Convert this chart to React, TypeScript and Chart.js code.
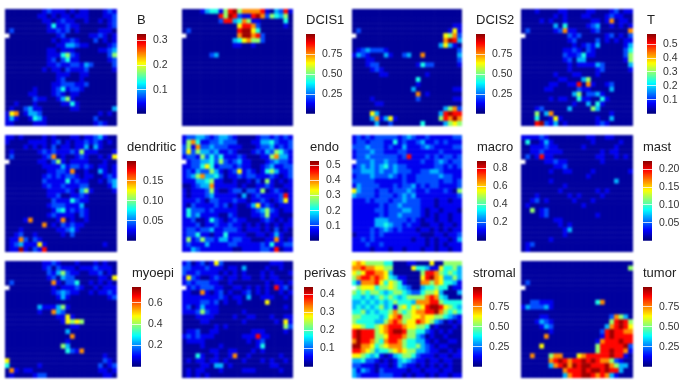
import React, { useEffect, useRef } from "react";
import { Chart, registerables } from "chart.js";

Chart.register(...registerables);

const FONT = "'Liberation Sans', Arial, sans-serif";

// Fraction of each panel's scale maximum for the digits used in the grids ('.' = no spot)
const levelFractions = [0.03, 0.11, 0.2, 0.3, 0.4, 0.52, 0.63, 0.74, 0.87, 0.97];

const gridB = [
  "000000001211101011000121",
  "000000011010110111000112",
  "000000001101211001001012",
  "000000000141121100000012",
  "020000000112120100001110",
  ".00000000001200000112101",
  "000000000010112100020101",
  "000000000001133211000012",
  "000000000110111000001123",
  "000000000111452100000025",
  "000000000120241100000012",
  "000000000112112213200002",
  "000000001011021112000001",
  "000000000001110011000000",
  "000000000001200010000000",
  "000000000011222112000000",
  "000000100012412210000000",
  "000001100012101100000000",
  "000000211001351000000000",
  "001000100000114100000000",
  "010023110000001100000003",
  "167013320000000000001010",
  "131001431000000000020000",
  "110000111000000000012100",
];
const gridDCIS1 = [
  "000013441589577778103281",
  "000000008598211897254350",
  "000000002883475110000040",
  "000000000000688720000010",
  "020000000000899640000000",
  ".00000000000799782000000",
  "000000000003467552000000",
  "000000000001100100000000",
  "000000000000000000000000",
  "000000230000000000000000",
  "000000000000000000000000",
  "000000000000000000000000",
  "000000000000000000000000",
  "000000000000000000000000",
  "000000000000000000000000",
  "000000000000000000000000",
  "000000000000000000000000",
  "000000000000000000000000",
  "000000000000000000000000",
  "000000000000000000000000",
  "000000000000000000000000",
  "000000000000000000000000",
  "000000000000000000000000",
  "000000000000000000000000",
];
const gridDCIS2 = [
  "000000000000000000000000",
  "000000000000000000000000",
  "000000000000000000000000",
  "000000000000000000000011",
  "020000000000000000000161",
  ".00000000000000000006572",
  "000000000000000000007983",
  "000000000000000000036310",
  "012322210000000000000002",
  "132100031002300700000003",
  "000110000000000000000002",
  "000122000000001422000001",
  "000012100000000000000000",
  "000000110000000010000000",
  "000000000000004000000000",
  "000000000000001000000000",
  "000000000000030000000011",
  "000000000000007010000000",
  "000010000000002000000011",
  "000001100000000000000000",
  "000000000000000000003572",
  "000063000000000000038988",
  "000037136100000000058797",
  "000003002000000400003565",
];
const gridT = [
  "000100001100001100012011",
  "000000010100011000121100",
  "000010100100000110170110",
  "000000030400001230010101",
  "020000012711000120000007",
  ".00000000021200000120102",
  "000000000012000020101011",
  "000000000001012130000013",
  "000000000112102100000024",
  "000000000211241100000025",
  "000000000120330000000015",
  "000000000010111132000003",
  "000000000010000012000001",
  "000000010001100010000000",
  "000000001100035000000000",
  "000000110011807100120000",
  "000001100000211000030000",
  "000000000003502231000000",
  "000000101100411004100000",
  "000000000001003041000000",
  "000120000030000530000000",
  "000503700000000000010000",
  "000400161000000010030000",
  "000892130100000012100000",
];
const gridDendritic = [
  "110100001010001101123100",
  "100001111012010112121010",
  "000010101020110113031000",
  "010000012121112151110001",
  "020000001270100121001016",
  ".00000011025101111000100",
  "000000001111312212101101",
  "000000000112217001003101",
  "000000001212122101100121",
  "000000002111141211001023",
  "000000001211211122000013",
  "000000000111121035100001",
  "000000000112001121000000",
  "000000000021114211000000",
  "000000000122211130000000",
  "000000000013412121000000",
  "000000000121111021000000",
  "000017000001701001000000",
  "000000007010212110000000",
  "000100000001123100000000",
  "001200100000102000000000",
  "011720210000000000000000",
  "012311161000000000000100",
  "011910218000000000000000",
];
const gridEndo = [
  "122332123321000012212121",
  "157411223222000113342112",
  "251722322211100012231212",
  "262533231121000121325421",
  "122152424111210001157331",
  ".12233425212311000123221",
  "112246412221211001231122",
  "121322531012612101453112",
  "123573342011212211121012",
  "111334511001001020510101",
  "001233711111010011210011",
  "101112510012202215012101",
  "101112311111030121111281",
  "111210221112110112101261",
  "102111121201001361210111",
  "142221211111000123521011",
  "142311110021000112511000",
  "112001421012110001210101",
  "111201121121101010101011",
  "122122311222101110102010",
  "122411011411110011013100",
  "151252213312211000117101",
  "121113111122111112141122",
  "113211111110011112218011",
];
const gridMacro = [
  "121212222212321121111122",
  "122122211412112311212111",
  "222322212113111232111122",
  "122232211122111111121111",
  "122322222212811121212212",
  ".22232232211111211232122",
  "123232342322111111221212",
  "223332322322211223321111",
  "122232223212112222232211",
  "222221111112112222212212",
  "132222111212231212211112",
  "632221221222321121112105",
  "322221222123231111111112",
  "111212221223222111011011",
  "111111212232222111011111",
  "111112212223322101101110",
  "111111212232222101011011",
  "111113332222121011011011",
  "111113343221211001101101",
  "111121232121110110101011",
  "011121211111111000110112",
  "112121111111101101011013",
  "111211211111111101010111",
  "111101110110111011011011",
];
const gridMast = [
  "111121000000001100110000",
  "040013100000000100000100",
  "001112110000010000001000",
  "001121111000000001011000",
  "020181100000000011001010",
  ".00001121100000001000000",
  "000000011200000000000000",
  "000000100110000100000001",
  "000000000000001000000000",
  "000000100000000000003000",
  "000000000100000000000000",
  "000000001000000010100000",
  "000100000010100001000000",
  "001201000001000100000000",
  "010000000000010000000000",
  "005012000000000000000000",
  "000012000000000010000000",
  "000000011000000000000000",
  "000000001010000000000000",
  "000000000130000000000000",
  "000000000100000000000000",
  "000000100000000000000000",
  "012000000000000000000000",
  "010000000000000000000000",
];
const gridMyoepi = [
  "000000001121000100010100",
  "000000001202111011121110",
  "000000000213521100112010",
  "000000000120322000001106",
  "020000000071022400101010",
  ".00000000010111210010111",
  "000000000012321100101121",
  "000000000001310000000012",
  "000000000000000000000000",
  "000000031113510000000000",
  "000000010073200000000000",
  "000000000001161000000000",
  "000000000000165650000000",
  "000000000000001100000000",
  "000000000000030000000000",
  "000000000000007000000000",
  "000000000000010000000000",
  "000000000000530000000000",
  "000000000000042170000000",
  "000000000000000000000100",
  "600000000000000000000210",
  "400000010000000000002012",
  "071011000000000000001101",
  "010000122000000000000110",
];
const gridPerivas = [
  "120120162000000000011100",
  "221112111011030000100100",
  "211211110101010001010001",
  "162100121011011001011000",
  "121222110010000000101101",
  ".12122211001101010108120",
  "110071012010012010100101",
  "111111112101103001110010",
  "111122120100100000600000",
  "120131110000000000000010",
  "111252110000010000000000",
  "000111100001001100010011",
  "000011000000010000001061",
  "000000010100000000000052",
  "011200110000000111000010",
  "121211100000011181100000",
  "011110000000001012000000",
  "000010001000000014000000",
  "000000110011000101000000",
  "000410010017001000000100",
  "010110110100010001010010",
  "000011033010000000011000",
  "010110001000011100000100",
  "010101000000000000000000",
];
const gridStromal = [
  "676555544000110006005555",
  "778776655000064431164453",
  "656887763000000588754543",
  "578878764311000689763353",
  "427778646541000775764431",
  ".56664556543200344544011",
  "545455434554322455630003",
  "443434545434555578743000",
  "334343434544437778854444",
  "343434534156465689986543",
  "445343445754567788975454",
  "554444346785566766554321",
  "544443357875668765320101",
  "665445678887665540100010",
  "898885678998554421010100",
  "898885568887553201001000",
  "798875478875443310100110",
  "997764567775445321011000",
  "887653445676553321100101",
  "665434101345542111011011",
  "334221010134321101101100",
  "221110110132110101010100",
  "313210211111011011101100",
  "321111222110101101011011",
];
const gridTumor = [
  "000000000000000000000000",
  "000000000000000000000005",
  "000000000000000000000000",
  "000000000000000000000000",
  "020000000000000000000000",
  ".00000000000000000000000",
  "000000000000000000000000",
  "000000000000000000000000",
  "002211100000000047000000",
  "132223100000000000000000",
  "000000000000000000000000",
  "000011000000000000027530",
  "000132100000000000058985",
  "000013200000000000378986",
  "000000100000000002898877",
  "000007000000000001898888",
  "000000000000000017888988",
  "000060000000000058888892",
  "000000000000000058898871",
  "007000577000678888898810",
  "000000789878898987752100",
  "000000378979899888975330",
  "000000000788898998988300",
  "000000000378899878731000",
];

const names = ["B", "DCIS1", "DCIS2", "T", "dendritic", "endo", "macro", "mast", "myoepi", "perivas", "stromal", "tumor"];
const grids = [gridB, gridDCIS1, gridDCIS2, gridT, gridDendritic, gridEndo, gridMacro, gridMast, gridMyoepi, gridPerivas, gridStromal, gridTumor];
const scaleMins = [0.003, 0.006, 0.006, 0, 0, 0, 0, 0, 0, 0, 0, 0];
const scaleMaxes = [0.326, 1.0, 1.0, 0.573, 0.2, 0.53, 0.88, 0.223, 0.75, 0.44, 1.0, 1.0];
const tickLabels = [
  ["0.1", "0.2", "0.3"],
  ["0.25", "0.50", "0.75"],
  ["0.25", "0.50", "0.75"],
  ["0.1", "0.2", "0.3", "0.4", "0.5"],
  ["0.05", "0.10", "0.15"],
  ["0.1", "0.2", "0.3", "0.4", "0.5"],
  ["0.2", "0.4", "0.6", "0.8"],
  ["0.05", "0.10", "0.15", "0.20"],
  ["0.2", "0.4", "0.6"],
  ["0.1", "0.2", "0.3", "0.4"],
  ["0.25", "0.50", "0.75"],
  ["0.25", "0.50", "0.75"],
];

// layout (pixels): heatmap x, y, w, h and colour bar x, y
const heatX = [5, 182, 352, 521, 5, 182, 352, 521, 5, 182, 352, 521];
const heatW = [112, 111, 110, 112, 112, 111, 110, 112, 112, 111, 110, 112];
const heatY = [9, 9, 9, 9, 135, 135, 135, 135, 261, 261, 261, 261];
const barX = [137, 306, 476, 647, 127, 310, 477, 643, 132, 304, 473, 643];
const barY = [34, 34, 34, 34, 161, 161, 161, 161, 287, 287, 287, 287];
const HEAT_H = 117;
const BAR_W = 9;
const BAR_H = 86;
const TITLE_H = 22;
const COLOR_STEPS = 64;

function jet(t: number): string {
  const c = Math.max(0, Math.min(1, t));
  const f = (d: number) => Math.round(255 * Math.max(0, Math.min(1, 1.5 - Math.abs(4 * c - d))));
  return `rgb(${f(3)},${f(2)},${f(1)})`;
}

function Heat({ i }: { i: number }) {
  const ref = useRef<HTMLCanvasElement>(null);
  useEffect(() => {
    const rows = grids[i];
    const nr = rows.length;
    const nc = 24;
    const lo = scaleMins[i];
    const hi = scaleMaxes[i];
    const pts: { x: number; y: number }[] = [];
    const colors: string[] = [];
    rows.forEach((row, r) => {
      for (let c = 0; c < nc; c++) {
        const ch = row[c] ?? "0";
        if (ch === ".") continue;
        const v = hi * levelFractions[Number(ch)];
        pts.push({ x: c + 0.5, y: r + 0.5 });
        colors.push(jet((v - lo) / (hi - lo)));
      }
    });
    const cell = Math.max(heatW[i] / nc, HEAT_H / nr) + 0.4;
    const chart = new Chart(ref.current!, {
      type: "scatter",
      data: {
        datasets: [
          {
            data: pts,
            pointStyle: "rect",
            pointRadius: cell / Math.SQRT2,
            pointBorderWidth: 0,
            pointBackgroundColor: colors,
          } as any,
        ],
      },
      options: {
        responsive: false,
        animation: false,
        layout: { padding: 0, autoPadding: false },
        plugins: { legend: { display: false }, tooltip: { enabled: false } },
        scales: {
          x: { type: "linear", min: 0, max: nc, display: false },
          y: { type: "linear", min: 0, max: nr, reverse: true, display: false },
        },
      },
    });
    return () => chart.destroy();
  }, [i]);
  return (
    <canvas
      ref={ref}
      width={heatW[i]}
      height={HEAT_H}
      style={{ position: "absolute", left: heatX[i], top: heatY[i], filter: "blur(1.2px)" }}
    />
  );
}

function Bar({ i }: { i: number }) {
  const ref = useRef<HTMLCanvasElement>(null);
  const w = Math.min(56, 691 - barX[i]);
  useEffect(() => {
    const lo = scaleMins[i];
    const hi = scaleMaxes[i];
    const step = (hi - lo) / COLOR_STEPS;
    const datasets = Array.from({ length: COLOR_STEPS }, (_, k) => ({
      data: [[lo + k * step, lo + (k + 1) * step + step * 0.3]],
      backgroundColor: jet((k + 0.5) / COLOR_STEPS),
      borderWidth: 0,
      barPercentage: 1,
      categoryPercentage: 1,
      grouped: false,
    }));
    const labels = tickLabels[i];
    const chart = new Chart(ref.current!, {
      type: "bar",
      data: { labels: [names[i]], datasets: datasets as any },
      options: {
        responsive: false,
        animation: false,
        layout: { padding: { left: 0, right: 0, top: 0, bottom: 7 } },
        plugins: {
          legend: { display: false },
          tooltip: { enabled: false },
          title: {
            display: true,
            text: names[i],
            align: "start",
            color: "#222",
            font: { family: FONT, size: 13, weight: "normal", lineHeight: 1.2 },
            padding: { top: 1, bottom: 5.4 },
          },
        },
        scales: {
          x: { display: false },
          y: {
            type: "linear",
            position: "right",
            min: lo,
            max: hi,
            border: { display: false },
            grid: { color: "rgba(255,255,255,0.75)", drawTicks: false, z: 1, lineWidth: 1 },
            ticks: {
              padding: 7,
              color: "#333",
              font: { family: FONT, size: 10.5 },
              callback: (v: any) => labels.find((l) => Math.abs(parseFloat(l) - v) < 1e-6) ?? "",
            },
            afterBuildTicks: (s: any) => {
              s.ticks = labels.map((l) => ({ value: parseFloat(l) }));
            },
            afterFit: (s: any) => {
              s.width = w - BAR_W;
            },
          } as any,
        },
      },
    });
    return () => chart.destroy();
  }, [i]);
  return (
    <canvas
      ref={ref}
      width={w}
      height={TITLE_H + BAR_H + 7}
      style={{ position: "absolute", left: barX[i], top: barY[i] - TITLE_H, filter: "blur(0.3px)" }}
    />
  );
}

export default function App() {
  return (
    <div style={{ position: "absolute", left: 0, top: 0, width: 691, height: 386, overflow: "hidden", background: "#fff" }}>
      {names.map((_, i) => (
        <Heat key={i} i={i} />
      ))}
      {names.map((_, i) => (
        <Bar key={"b" + i} i={i} />
      ))}
    </div>
  );
}
